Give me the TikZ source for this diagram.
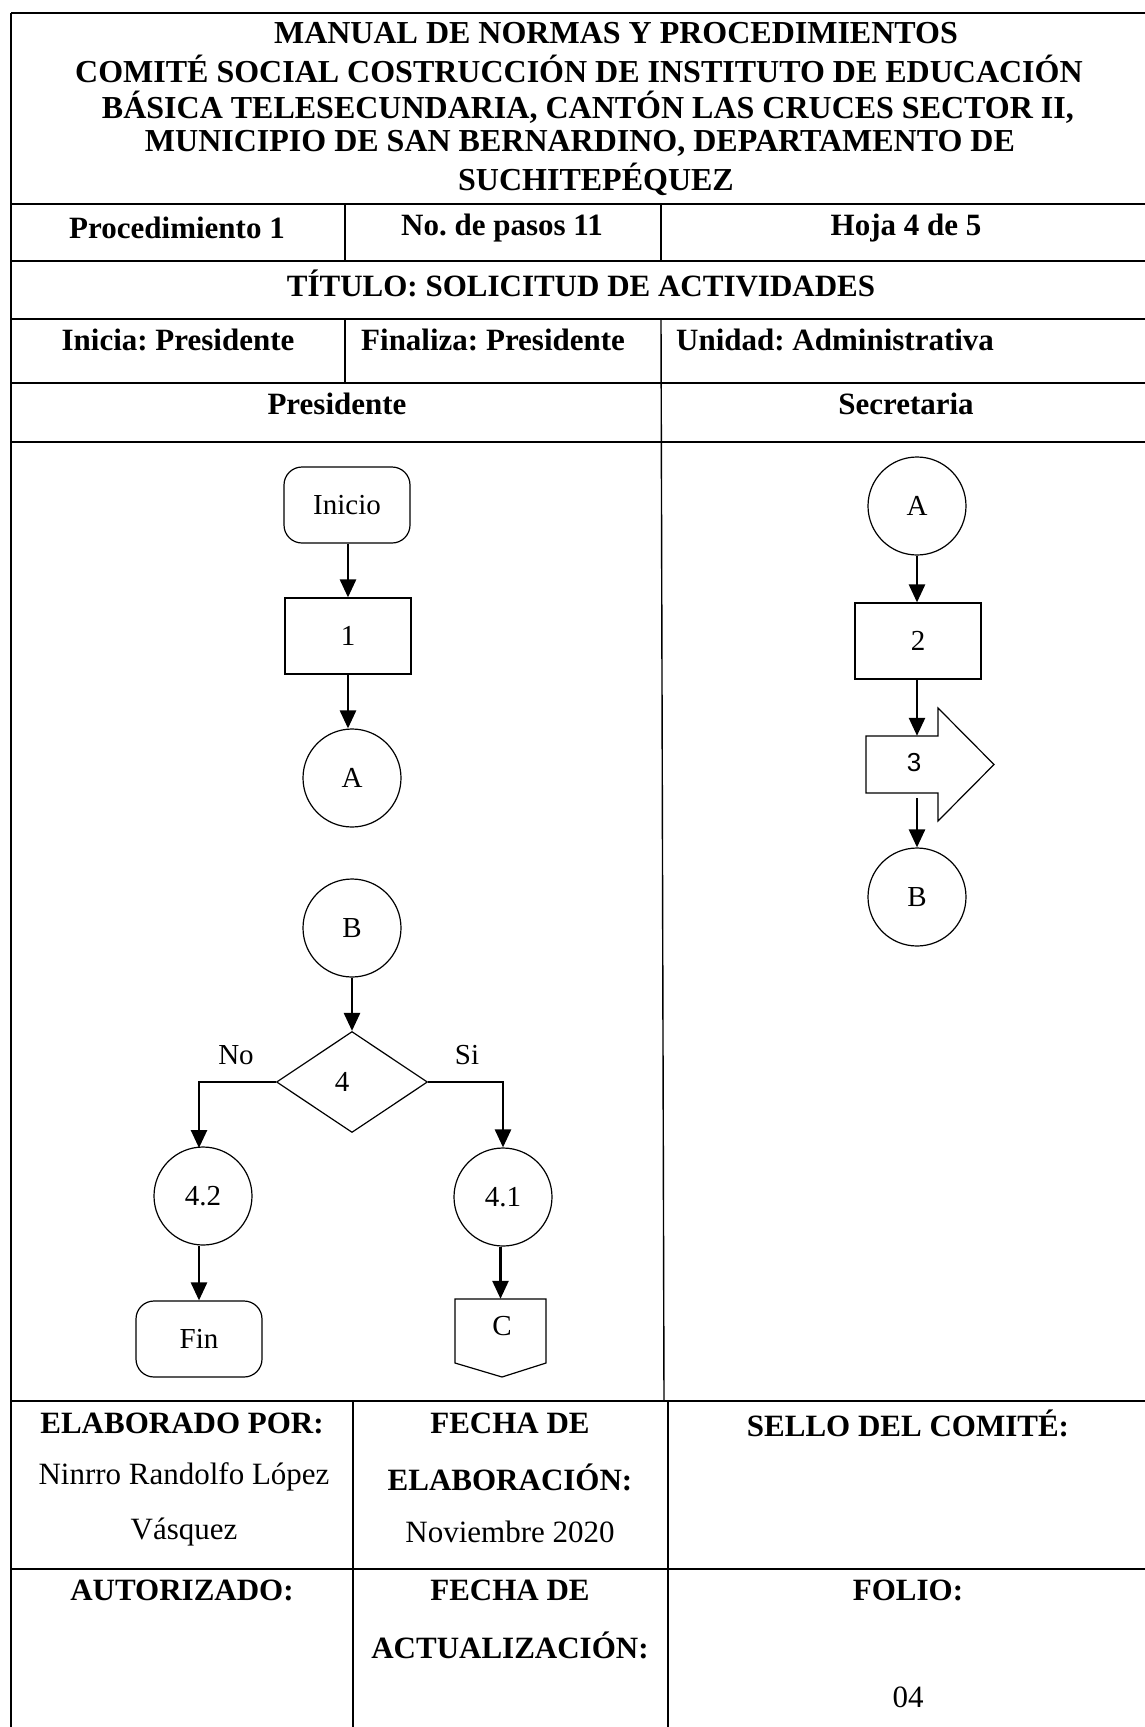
\documentclass[tikz,border=0pt]{standalone}
\usepackage{fontspec}
\setmainfont{Liberation Serif}
\newfontfamily\arialfont{Liberation Sans}
\usetikzlibrary{arrows.meta,shapes.geometric,calc}
\frenchspacing
\tikzset{
  tline/.style={line width=2pt,black},
  vline/.style={line width=1.4pt,black},
  hd/.style={font=\fontsize{32}{37}\selectfont\bfseries,align=center,inner sep=0pt},
  cell/.style={font=\fontsize{31}{37}\selectfont\bfseries,inner sep=0pt,anchor=center},
  cellr/.style={font=\fontsize{31}{37}\selectfont,inner sep=0pt,anchor=center},
  fc/.style={draw,line width=1.2pt,font=\fontsize{29}{30}\selectfont,inner sep=0pt},
  procbox/.style={fc,rectangle,minimum width=126pt,minimum height=76pt},
  term/.style={fc,rectangle,rounded corners=18pt,minimum width=126pt,minimum height=76pt},
  conn/.style={fc,circle,minimum size=98pt},
  dec/.style={fc,diamond,minimum width=151pt,minimum height=101pt},
  arr/.style={line width=2.6pt,-{Triangle[length=18pt,width=16pt]}},
  lbl/.style={font=\fontsize{29}{30}\selectfont,inner sep=0pt}
}
\begin{document}
\begin{tikzpicture}[x=1pt,y=-1pt]
\useasboundingbox (0,0) rectangle (1145,1727);
% ---- table lines ----
\draw[tline] (11,13) -- (1145,13);
\draw[tline] (11,204) -- (1145,204);
\draw[tline] (11,261) -- (1145,261);
\draw[tline] (11,319) -- (1145,319);
\draw[tline] (11,383) -- (1145,383);
\draw[tline] (11,442) -- (1145,442);
\draw[tline] (11,1401) -- (1145,1401);
\draw[tline] (11,1569) -- (1145,1569);
\draw[vline] (11,13) -- (11,1727);
\draw[vline] (345,204) -- (345,261);
\draw[vline] (661,204) -- (661,261);
\draw[vline] (345,319) -- (345,383);
\draw[vline] (661,319) -- (664,1401);
\draw[vline] (353,1401) -- (353,1727);
\draw[vline] (668,1401) -- (668,1727);
% ---- header ----
\node[hd] (h1) at (616,33) {MANUAL DE NORMAS Y PROCEDIMIENTOS};
\node[hd] (h2) at (579,69) {COMITÉ SOCIAL COSTRUCCIÓN DE INSTITUTO DE EDUCACIÓN};
\node[hd] (h3) at (588,107) {BÁSICA TELESECUNDARIA, CANTÓN LAS CRUCES SECTOR II,};
\node[hd] (h4) at (580,143) {MUNICIPIO DE SAN BERNARDINO, DEPARTAMENTO DE};
\node[hd] (h5) at (596,179) {SUCHITEPÉQUEZ};
\node[cell] (p1) at (177,228) {Procedimiento 1};
\node[cell] (p2) at (502,228) {No. de pasos 11};
\node[cell] (p3) at (906,228) {Hoja 4 de 5};
\node[cell] (tit) at (581,283) {TÍTULO: SOLICITUD DE ACTIVIDADES};
\node[cell] (ini) at (178,340) {Inicia: Presidente};
\node[cell,anchor=west] (fin) at (361,340) {Finaliza: Presidente};
\node[cell,anchor=west] (uni) at (676,340) {Unidad: Administrativa};
\node[cell] (pres) at (337,404) {Presidente};
\node[cell] (secr) at (906,404) {Secretaria};
% ---- bottom ----
\node[cell] (e1) at (182,1423) {ELABORADO POR:};
\node[cellr] (e2) at (184,1477) {Ninrro Randolfo López};
\node[cellr] (e3) at (184,1532) {Vásquez};
\node[cell] (f1) at (510,1423) {FECHA DE};
\node[cell] (f2) at (510,1477) {ELABORACIÓN:};
\node[cellr] (f3) at (510,1532) {Noviembre 2020};
\node[cell] (s1) at (908,1423) {SELLO DEL COMITÉ:};
\node[cell] (a1) at (182,1590) {AUTORIZADO:};
\node[cell] (g1) at (510,1590) {FECHA DE};
\node[cell] (g2) at (510,1645) {ACTUALIZACIÓN:};
\node[cell] (fo1) at (908,1590) {FOLIO:};
\node[cellr] (fo2) at (908,1697) {04};
% ---- flowchart: Presidente ----
\node[term] (inicio) at (347,505) {Inicio};
\node[procbox] (s1box) at (348,636) {1};
\node[conn] (ca) at (352,778) {A};
\node[conn] (cb) at (352,928) {B};
\node[dec] (d4) at (352,1082) {\hspace*{-20pt}4};
\node[conn] (c42) at (203,1196) {4.2};
\node[conn] (c41) at (503,1197) {4.1};
\node[term] (fine) at (199,1339) {Fin};
\node[inner sep=0pt,minimum width=91pt,minimum height=78pt] (cc) at (500.5,1338) {};
\draw[line width=1.2pt] (455,1299) -- (546,1299) -- (546,1363) -- (502,1377) -- (455,1363) -- cycle;
\node[lbl] (cclbl) at (502,1326) {C};
\node[lbl] (lno) at (236,1055) {No};
\node[lbl] (lsi) at (467,1055) {Si};
\coordinate (notop) at (199,1148);
\draw[arr] (inicio.south -| s1box.north) -- (s1box.north);
\draw[arr] (s1box.south) -- (s1box.south |- ca.north);
\draw[arr] (cb.south) -- (d4.north);
\draw[arr] (d4.west) -| (notop);
\draw[arr] (d4.east) -| (c41.north);
\draw[arr] (c42.south -| fine.north) -- (fine.north);
\draw[arr] (c41.south -| cc.north) -- (cc.north);
% ---- flowchart: Secretaria ----
\node[conn] (sa) at (917,506) {A};
\node[procbox] (s2box) at (918,641) {2};
\node[inner sep=0pt,minimum width=72pt,minimum height=57pt] (b3) at (902,764.5) {};
\draw[line width=1.2pt] (866,736) -- (938,736) -- (938,708) -- (994,764.5) -- (938,821) -- (938,793) -- (866,793) -- cycle;
\node[font=\arialfont\fontsize{26}{30}\selectfont,inner sep=0pt] (l3) at (914,763) {3};
\node[conn] (sb) at (917,897) {B};
\draw[arr] (sa.south) -- (sa.south |- s2box.north);
\draw[arr] (sa.south |- s2box.south) -- (sa.south |- b3.north);
\draw[arr] ([yshift=-5pt]sa.south |- b3.south) -- (sb.north);
\end{tikzpicture}
\end{document}
